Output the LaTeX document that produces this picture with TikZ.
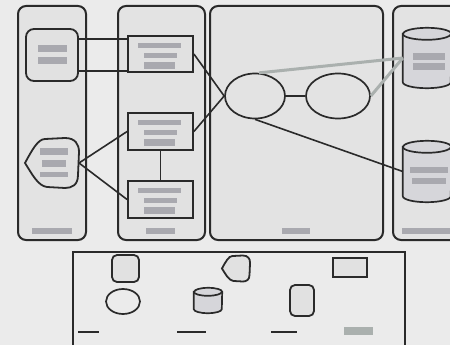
\documentclass[tikz,border=0pt]{standalone}
\usetikzlibrary{shapes.geometric}
\definecolor{bgc}{HTML}{EBEBEB}
\definecolor{lanec}{HTML}{E3E3E3}
\definecolor{nodec}{HTML}{E1E1E1}
\definecolor{cylc}{HTML}{D6D6DA}
\definecolor{barc}{HTML}{A9A9AF}
\definecolor{linkc}{HTML}{AAB0AE}
\definecolor{edgec}{HTML}{2A2A2A}
% 圆柱：节点名, x半径, y半径
\newcommand{\drum}[3]{%
  \draw[dbline] ([yshift=-#3pt]#1.north west) -- ([yshift=#3pt]#1.south west)
    arc[start angle=180,end angle=360,x radius=#2pt,y radius=#3pt]
    -- ([yshift=-#3pt]#1.north east)
    arc[start angle=0,end angle=180,x radius=#2pt,y radius=#3pt] -- cycle;
  \draw[dbline,fill=none] ([yshift=-#3pt]#1.north west)
    arc[start angle=180,end angle=360,x radius=#2pt,y radius=#3pt];}
\begin{document}
\begin{tikzpicture}[x=1pt,y=-1pt,
  lane/.style={draw=edgec,line width=2pt,fill=lanec,rounded corners=8pt,inner sep=0pt},
  box/.style={draw=edgec,line width=1.8pt,fill=nodec,inner sep=0pt},
  oval/.style={ellipse,draw=edgec,line width=1.7pt,inner sep=0pt},
  db/.style={inner sep=0pt},
  dbline/.style={draw=edgec,line width=1.7pt,fill=cylc},
  link/.style={draw=edgec,line width=1.6pt},
  glink/.style={draw=linkc,line width=3pt}]
\fill[bgc] (0,0) rectangle (450,345);
\useasboundingbox (0,0) rectangle (450,345);
\clip (0,0) rectangle (450,345);
% 泳道
\node[lane,minimum width=68pt,minimum height=234pt] (lane1) at (52,123) {};
\node[lane,minimum width=87pt,minimum height=234pt] (lane2) at (161.5,123) {};
\node[lane,minimum width=173pt,minimum height=234pt] (lane3) at (296.5,123) {};
\node[lane,minimum width=87pt,minimum height=234pt] (lane4) at (436.5,123) {};
\fill[barc] (32,228) rectangle (72,234);
\fill[barc] (146,228) rectangle (175,234);
\fill[barc] (282,228) rectangle (310,234);
\fill[barc] (402,228) rectangle (460,234);
% 第一道
\node[box,rounded corners=8pt,minimum width=52pt,minimum height=52pt] (start) at (52,55) {};
\fill[barc] (38,45) rectangle (67,52);
\fill[barc] (38,57) rectangle (67,64);
\draw[box,shift={(52,163)}] (-27,0) .. controls (-20,-13) and (-14,-24) .. (-7,-24) -- (13,-25)
  .. controls (23,-25) and (27,-19) .. (27,-11) -- (26,12) .. controls (26,22) and (20,25) .. (13,25)
  -- (-5,24) .. controls (-14,23) and (-20,11) .. (-27,0) -- cycle;
\coordinate (doc) at (79,163);
\fill[barc] (40,148) rectangle (68,155);
\fill[barc] (42,160) rectangle (66,167);
\fill[barc] (40,172) rectangle (68,177);
% 第二道
\node[box,minimum width=65pt,minimum height=36pt] (task1) at (160.5,54) {};
\node[box,minimum width=65pt,minimum height=37pt] (task2) at (160.5,131.5) {};
\node[box,minimum width=65pt,minimum height=37pt] (task3) at (160.5,199.5) {};
\foreach \dy in {0,77,145} {
  \fill[barc] (138,43+\dy) rectangle (181,48+\dy);
  \fill[barc] (144,53+\dy) rectangle (177,58+\dy);
  \fill[barc] (144,62+\dy) rectangle (175,69+\dy);
}
% 第三道
\node[oval,minimum width=60pt,minimum height=45pt] (ev1) at (255,96) {};
\node[oval,minimum width=64pt,minimum height=45pt] (ev2) at (338,96) {};
% 第四道
\node[db,minimum width=48pt,minimum height=60pt] (store1) at (427,58) {};
\node[db,minimum width=48pt,minimum height=61pt] (store2) at (427,171.5) {};
\drum{store1}{24}{6}
\drum{store2}{24}{6}
\fill[barc] (413,53) rectangle (445,60);
\fill[barc] (413,63) rectangle (445,70);
\fill[barc] (410,167) rectangle (448,173);
\fill[barc] (412,178) rectangle (446,184);
% 连线
\draw[link] ([yshift=16pt]start.east) -- ([yshift=16pt]start.east -| task1.west);
\draw[link] ([yshift=-16pt]start.east) -- ([yshift=-16pt]start.east -| task1.west);
\draw[link] (doc) -- (task2.west);
\draw[link] (doc) -- (task3.west);
\draw[link] (task2) -- (task3);
\draw[link] (task1.east) -- (ev1.west);
\draw[link] (task2.east) -- (ev1.west);
\draw[link] (ev1) -- (ev2);
\draw[link] (ev1.south) -- (store2.west);
\draw[glink] (ev1.80) -- (store1.west);
\draw[glink] (ev2.east) -- (store1.west);
% 图例
\draw[line width=1.8pt,draw=edgec] (73,252) rectangle (405,352);
\node[box,rounded corners=5pt,minimum width=27pt,minimum height=27pt] (lg1) at (125.5,268.5) {};
\draw[box,shift={(236,268.5)},scale=0.52] (-27,0) .. controls (-20,-13) and (-14,-24) .. (-7,-24) -- (13,-25)
  .. controls (23,-25) and (27,-19) .. (27,-11) -- (26,12) .. controls (26,22) and (20,25) .. (13,25)
  -- (-5,24) .. controls (-14,23) and (-20,11) .. (-27,0) -- cycle;
\node[box,minimum width=34pt,minimum height=19pt] (lg3) at (350,267.5) {};
\node[oval,minimum width=34pt,minimum height=25pt] (lg4) at (123,301.5) {};
\node[db,minimum width=28pt,minimum height=25pt] (lg5) at (208,300.5) {};
\drum{lg5}{14}{4}
\node[box,rounded corners=5pt,minimum width=24pt,minimum height=31pt] (lg6) at (302,300.5) {};
\draw[link] (78,332) -- (99,332);
\draw[link] (177,332) -- (206,332);
\draw[link] (271,332) -- (297,332);
\fill[linkc] (344,327) rectangle (373,335);
\end{tikzpicture}
\end{document}
